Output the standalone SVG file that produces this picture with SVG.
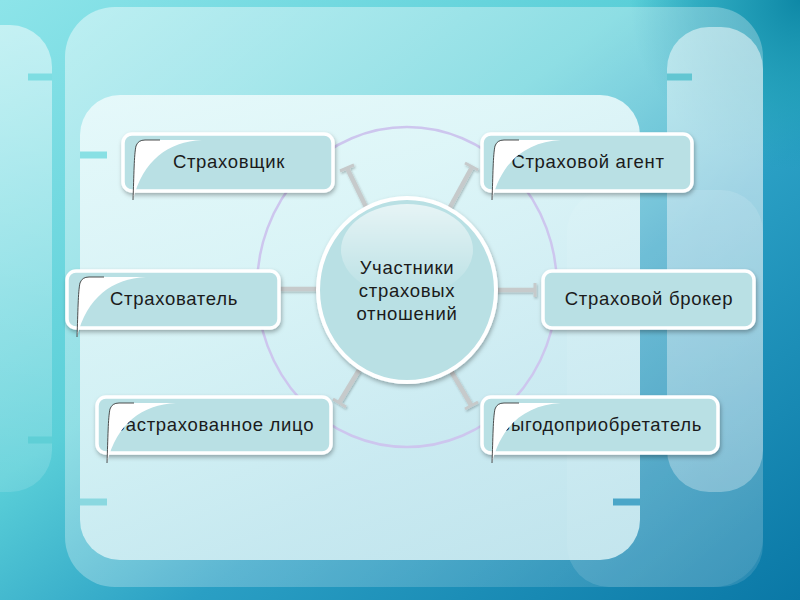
<svg xmlns="http://www.w3.org/2000/svg" width="800" height="600" viewBox="0 0 800 600">
<defs>
<linearGradient id="bg" x1="0" y1="0" x2="1" y2="1">
<stop offset="0" stop-color="#8de4e9"/>
<stop offset="0.4" stop-color="#5acfd8"/>
<stop offset="0.62" stop-color="#2a9fc4"/>
<stop offset="1" stop-color="#0a78a6"/>
</linearGradient>
<radialGradient id="tr" cx="800" cy="0" r="170" gradientUnits="userSpaceOnUse">
<stop offset="0" stop-color="#0e88a6" stop-opacity="1"/>
<stop offset="0.6" stop-color="#1a9ab4" stop-opacity="0.6"/>
<stop offset="1" stop-color="#1a9ab4" stop-opacity="0"/>
</radialGradient>
<linearGradient id="big" x1="0" y1="0" x2="1" y2="1">
<stop offset="0" stop-color="#ffffff" stop-opacity="0.45"/>
<stop offset="0.5" stop-color="#ffffff" stop-opacity="0.28"/>
<stop offset="1" stop-color="#ffffff" stop-opacity="0.08"/>
</linearGradient>
<linearGradient id="leftp" x1="0" y1="0" x2="0" y2="1">
<stop offset="0" stop-color="#ffffff" stop-opacity="0.5"/>
<stop offset="1" stop-color="#ffffff" stop-opacity="0.12"/>
</linearGradient>
<linearGradient id="rightp" x1="0" y1="0" x2="0" y2="1">
<stop offset="0" stop-color="#ffffff" stop-opacity="0.5"/>
<stop offset="1" stop-color="#ffffff" stop-opacity="0.3"/>
</linearGradient>
<linearGradient id="hl" x1="0" y1="0" x2="0" y2="1">
<stop offset="0" stop-color="#ffffff" stop-opacity="0.65"/>
<stop offset="1" stop-color="#ffffff" stop-opacity="0"/>
</linearGradient>
<linearGradient id="inner" x1="0" y1="0" x2="0" y2="1">
<stop offset="0" stop-color="#eefbfc"/>
<stop offset="1" stop-color="#d8f1f5"/>
</linearGradient>
<filter id="sh" x="-20%" y="-20%" width="140%" height="160%">
<feDropShadow dx="1" dy="2.5" stdDeviation="2" flood-color="#000" flood-opacity="0.3"/>
</filter>
<filter id="lsh" x="-30%" y="-30%" width="160%" height="160%">
<feDropShadow dx="1" dy="1.5" stdDeviation="1.2" flood-color="#000" flood-opacity="0.25"/>
</filter>
<style>
.box{fill:#b9e0e4;stroke:#ffffff;stroke-width:3.5;filter:url(#sh)}
.lbl{font-family:"Liberation Sans",Arial,sans-serif;font-size:18.5px;letter-spacing:0.7px;fill:#1b1b1b;text-anchor:middle}
.curl{fill:#ffffff}
.curlEdge{fill:none;stroke:#3a3a3a;stroke-width:0.9}
.con{stroke:#c6cacb;stroke-width:4.5;fill:none;stroke-linecap:butt}
.cap{stroke:#c6cacb;stroke-width:3;fill:none}
.tick{stroke-width:7}
</style>
</defs>

<!-- background -->
<rect x="0" y="0" width="800" height="600" fill="url(#bg)"/>
<rect x="600" y="0" width="200" height="200" fill="url(#tr)"/>
<rect x="-40" y="25" width="92" height="467" rx="42" fill="url(#leftp)"/>
<rect x="65" y="7" width="698" height="580" rx="50" fill="url(#big)"/>
<rect x="667" y="27" width="96" height="465" rx="42" fill="url(#rightp)"/>
<rect x="567" y="190" width="196" height="397" rx="42" fill="#ffffff" fill-opacity="0.12"/>
<rect x="80" y="95" width="560" height="465" rx="40" fill="url(#inner)" fill-opacity="0.85"/>
<line class="tick" x1="28" y1="77" x2="52" y2="77" stroke="#7edde2"/>
<line class="tick" x1="80" y1="155" x2="107" y2="155" stroke="#88e0e4"/>
<line class="tick" x1="28" y1="440" x2="52" y2="440" stroke="#5fcfd6"/>
<line class="tick" x1="80" y1="502" x2="107" y2="502" stroke="#8ad8e0"/>
<line class="tick" x1="667" y1="77" x2="692" y2="77" stroke="#62c6d2"/>
<line class="tick" x1="613" y1="502" x2="640" y2="502" stroke="#4aa6c8"/>

<!-- big lavender ring -->
<ellipse cx="407" cy="287" rx="150" ry="160" fill="none" stroke="#cdc6ee" stroke-width="2.5"/>

<!-- connectors -->
<g id="connectors" filter="url(#lsh)">
<line class="con" x1="367" y1="209" x2="347" y2="168"/>
<line class="cap" x1="340" y1="171" x2="354" y2="165"/>
<line class="con" x1="449" y1="209" x2="472" y2="167"/>
<line class="cap" x1="465" y1="163" x2="478" y2="170"/>
<line class="con" x1="495" y1="290" x2="535" y2="290"/>
<line class="cap" x1="535" y1="283" x2="535" y2="297"/>
<line class="con" x1="319" y1="289" x2="280" y2="289"/>
<line class="con" x1="359" y1="370" x2="339" y2="403"/>
<line class="cap" x1="333" y1="399" x2="346" y2="407"/>
<line class="con" x1="451" y1="371" x2="471" y2="405"/>
<line class="cap" x1="465" y1="409" x2="478" y2="402"/>
</g>

<!-- center -->
<g id="center">
<ellipse cx="407" cy="290" rx="89" ry="92" fill="#b9e0e4" stroke="#ffffff" stroke-width="4" filter="url(#sh)"/>
<ellipse cx="407" cy="250" rx="66" ry="46" fill="url(#hl)"/>
<text class="lbl" x="407" y="274">Участники</text>
<text class="lbl" x="407" y="297">страховых</text>
<text class="lbl" x="407" y="320">отношений</text>
</g>

<!-- nodes -->
<g id="node-strahovshchik">
<rect class="box" x="123" y="134" width="210" height="57" rx="9"/>
<text class="lbl" x="229" y="168">Страховщик</text>
<path class="curl" d="M133,200 C134,175 134,155 136,146 Q138,140 145,140 L202,140 C168,142 143,160 133,200 Z"/>
<path class="curlEdge" d="M133,200 C134,175 134,155 136,146 Q138,140 145,140 L160,140"/>
</g>

<g id="node-strahovoy-agent">
<rect class="box" x="482" y="134" width="210" height="57" rx="9"/>
<text class="lbl" x="588" y="168">Страховой агент</text>
<path class="curl" d="M492,200 C493,175 493,155 495,146 Q497,140 504,140 L561,140 C527,142 502,160 492,200 Z"/>
<path class="curlEdge" d="M492,200 C493,175 493,155 495,146 Q497,140 504,140 L519,140"/>
</g>

<g id="node-strahovatel">
<rect class="box" x="67" y="271" width="212" height="57" rx="9"/>
<text class="lbl" x="174" y="305">Страхователь</text>
<path class="curl" d="M77,337 C78,312 78,292 80,283 Q82,277 89,277 L146,277 C112,279 87,297 77,337 Z"/>
<path class="curlEdge" d="M77,337 C78,312 78,292 80,283 Q82,277 89,277 L104,277"/>
</g>

<g id="node-strahovoy-broker">
<rect class="box" x="543" y="271" width="211" height="57" rx="9"/>
<text class="lbl" x="649" y="305">Страховой брокер</text>
</g>

<g id="node-zastrahovannoe-litso">
<rect class="box" x="97" y="397" width="234" height="56" rx="9"/>
<text class="lbl" x="214" y="431">Застрахованное лицо</text>
<path class="curl" d="M107,463 C108,438 108,418 110,409 Q112,403 119,403 L176,403 C142,405 117,423 107,463 Z"/>
<path class="curlEdge" d="M107,463 C108,438 108,418 110,409 Q112,403 119,403 L134,403"/>
</g>

<g id="node-vygodopriobretatel">
<rect class="box" x="482" y="397" width="236" height="56" rx="9"/>
<text class="lbl" x="600" y="431">Выгодоприобретатель</text>
<path class="curl" d="M492,463 C493,438 493,418 495,409 Q497,403 504,403 L561,403 C527,405 502,423 492,463 Z"/>
<path class="curlEdge" d="M492,463 C493,438 493,418 495,409 Q497,403 504,403 L519,403"/>
</g>
</svg>
